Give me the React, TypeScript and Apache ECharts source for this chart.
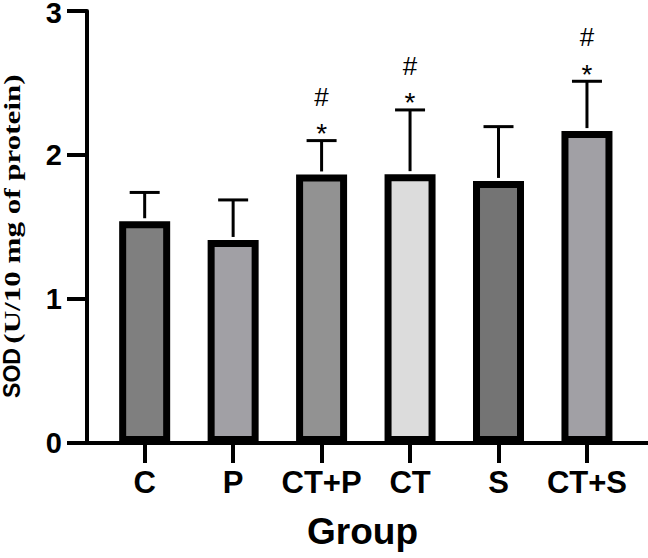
import React, { useEffect, useRef } from "react";
import * as echarts from "echarts";

const categories = ["C", "P", "CT+P", "CT", "S", "CT+S"];
const means = [1.54, 1.41, 1.865, 1.867, 1.82, 2.166];
const errUpper = [0.2, 0.278, 0.235, 0.446, 0.377, 0.346];
const barColors = ["#7f7f7f", "#a1a0a5", "#929292", "#dcdcdc", "#747474", "#a1a0a5"];
const hashMarks = ["", "", "#", "#", "", "#"];
const starMarks = ["", "", "*", "*", "", "*"];
const yTicks = [0, 1, 2, 3];

export default function App() {
  const ref = useRef<HTMLDivElement>(null);
  useEffect(() => {
    if (!ref.current) return;
    const chart = echarts.init(ref.current, undefined, { renderer: "svg" });
    const idx = categories.map((_, i) => i);
    const sans = "'Liberation Sans', Arial, sans-serif";
    const serif = "'Liberation Serif', 'Times New Roman', serif";
    const yMax = yTicks[yTicks.length - 1];
    chart.setOption({
      animation: false,
      backgroundColor: "#fff",
      grid: { left: 87, right: 0, top: 11, bottom: 115, outerBoundsMode: "none" },
      xAxis: {
        type: "value",
        min: -0.652,
        max: 5.69,
        splitLine: { show: false },
        axisLine: { show: true, lineStyle: { color: "#000", width: 4 } },
        axisTick: { show: true, customValues: idx, length: 20, lineStyle: { color: "#000", width: 4 } },
        axisLabel: {
          customValues: idx,
          formatter: (v: number) => categories[Math.round(v)] ?? "",
          color: "#000",
          fontFamily: sans,
          fontWeight: "bold",
          fontSize: 31,
          margin: 24,
        },
        name: "Group",
        nameLocation: "middle",
        nameGap: 70,
        nameTextStyle: { color: "#000", fontFamily: sans, fontWeight: "bold", fontSize: 37, padding: [0, 10, 0, 0] },
      },
      yAxis: {
        type: "value",
        min: yTicks[0],
        max: yMax,
        interval: 1,
        splitLine: { show: false },
        axisLine: { show: true, onZero: false, lineStyle: { color: "#000", width: 4 } },
        axisTick: { show: true, length: 20, lineStyle: { color: "#000", width: 4 } },
        axisLabel: {
          color: "#000",
          fontFamily: sans,
          fontWeight: "bold",
          fontSize: 29,
          margin: 25,
          lineHeight: 24,
          formatter: (v: number) => (v === yMax ? "{t|" + v + "}" : String(v)),
          rich: {
            t: { fontFamily: sans, fontWeight: "bold", fontSize: 29, color: "#000", lineHeight: 24, padding: [4, 0, 0, 0] },
          },
        },
      },
      graphic: [
        {
          type: "text",
          x: 12,
          y: 373,
          rotation: Math.PI / 2,
          style: {
            text: "SOD",
            align: "center",
            verticalAlign: "middle",
            fill: "#000",
            fontFamily: sans,
            fontWeight: "bold",
            fontSize: 23,
          },
        },
        {
          type: "text",
          x: 12,
          y: 209,
          rotation: Math.PI / 2,
          scaleX: 1.35,
          style: {
            text: "(U/10 mg of protein)",
            align: "center",
            verticalAlign: "middle",
            fill: "#000",
            fontFamily: serif,
            fontWeight: "bold",
            fontSize: 23,
          },
        },
      ],
      series: [
        {
          type: "bar",
          barWidth: 51,
          data: means.map((v, i) => ({
            value: [i, v],
            itemStyle: { color: barColors[i], borderColor: "#000", borderWidth: 7 },
          })),
        },
        {
          type: "custom",
          data: means.map((m, i) => [i, m, errUpper[i]]),
          renderItem: (params: any, api: any) => {
            const i = api.value(0);
            const m = api.value(1);
            const e = api.value(2);
            const base = api.coord([i, m]);
            const top = api.coord([i, m + e]);
            const children: any[] = [
              {
                type: "line",
                shape: { x1: base[0], y1: base[1] - 3, x2: top[0], y2: top[1] },
                style: { stroke: "#000", lineWidth: 3 },
              },
              {
                type: "line",
                shape: { x1: top[0] - 15, y1: top[1], x2: top[0] + 15, y2: top[1] },
                style: { stroke: "#000", lineWidth: 3 },
              },
            ];
            const h = hashMarks[params.dataIndex];
            const s = starMarks[params.dataIndex];
            if (s) {
              children.push({
                type: "text",
                x: top[0],
                y: top[1] - 7,
                style: { text: s, align: "center", verticalAlign: "middle", fontFamily: sans, fontSize: 28, fill: "#000" },
              });
            }
            if (h) {
              children.push({
                type: "text",
                x: top[0],
                y: top[1] - 44,
                style: { text: h, align: "center", verticalAlign: "middle", fontFamily: sans, fontSize: 26, fill: "#000" },
              });
            }
            return { type: "group", children };
          },
        },
      ],
    });
    return () => chart.dispose();
  }, []);
  return <div ref={ref} style={{ position: "fixed", left: 0, top: 0, width: 648, height: 558 }} />;
}
